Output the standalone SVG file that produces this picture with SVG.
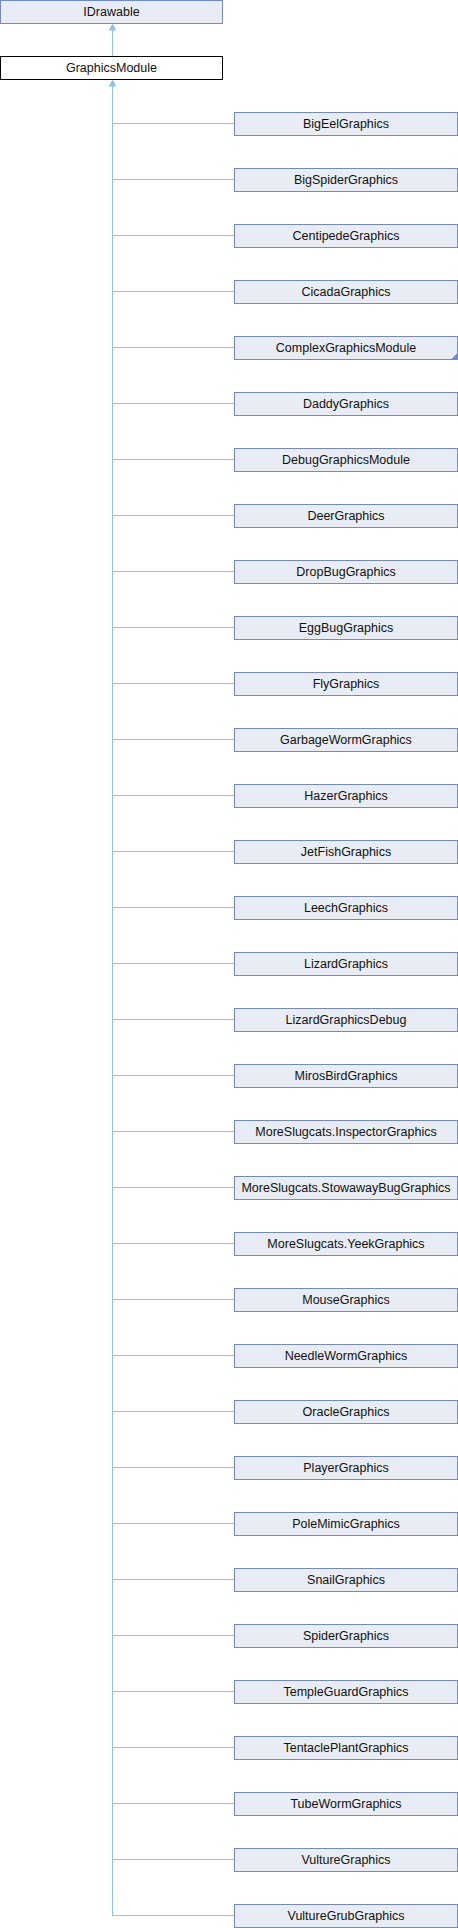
<svg xmlns="http://www.w3.org/2000/svg" width="458" height="1928" viewBox="0 0 458 1928">
<style>
.n rect{fill:#e8ecf4;stroke:#7189c4;stroke-width:1}
.n text,.m text{font-family:"Liberation Sans",Arial,sans-serif;font-size:12.5px;fill:#111;text-anchor:middle}
.m rect{fill:#fff;stroke:#000;stroke-width:1}
.e{fill:none;stroke:#8ac4ea;stroke-width:1}
.a{fill:#8ac4ea;stroke:#8ac4ea;stroke-width:1}
</style>
<g id="connectors">
<path class="e" d="M112.5,30V56"/>
<polygon class="a" points="112.5,24.5 115.5,30 109.5,30"/>
<path class="e" d="M112.5,86V1915.5H234"/>
<polygon class="a" points="112.5,80.5 115.5,86 109.5,86"/>
<path class="e" d="M112.5,123.5H234M112.5,179.5H234M112.5,235.5H234M112.5,291.5H234M112.5,347.5H234M112.5,403.5H234M112.5,459.5H234M112.5,515.5H234M112.5,571.5H234M112.5,627.5H234M112.5,683.5H234M112.5,739.5H234M112.5,795.5H234M112.5,851.5H234M112.5,907.5H234M112.5,963.5H234M112.5,1019.5H234M112.5,1075.5H234M112.5,1131.5H234M112.5,1187.5H234M112.5,1243.5H234M112.5,1299.5H234M112.5,1355.5H234M112.5,1411.5H234M112.5,1467.5H234M112.5,1523.5H234M112.5,1579.5H234M112.5,1635.5H234M112.5,1691.5H234M112.5,1747.5H234M112.5,1803.5H234M112.5,1859.5H234"/>
</g>
<g id="IDrawable" class="n"><rect x="0.5" y="0.5" width="222" height="23"/><text x="111.5" y="16">IDrawable</text></g>
<g id="GraphicsModule" class="m"><rect x="0.5" y="56.5" width="222" height="23"/><text x="111.5" y="72">GraphicsModule</text></g>
<g id="BigEelGraphics" class="n"><rect x="234.5" y="112.5" width="223" height="23"/><text x="346" y="128">BigEelGraphics</text></g>
<g id="BigSpiderGraphics" class="n"><rect x="234.5" y="168.5" width="223" height="23"/><text x="346" y="184">BigSpiderGraphics</text></g>
<g id="CentipedeGraphics" class="n"><rect x="234.5" y="224.5" width="223" height="23"/><text x="346" y="240">CentipedeGraphics</text></g>
<g id="CicadaGraphics" class="n"><rect x="234.5" y="280.5" width="223" height="23"/><text x="346" y="296">CicadaGraphics</text></g>
<g id="ComplexGraphicsModule" class="n"><rect x="234.5" y="336.5" width="223" height="23"/><polygon points="457.5,353 457.5,359.5 451,359.5" fill="#7189c4"/><text x="346" y="352">ComplexGraphicsModule</text></g>
<g id="DaddyGraphics" class="n"><rect x="234.5" y="392.5" width="223" height="23"/><text x="346" y="408">DaddyGraphics</text></g>
<g id="DebugGraphicsModule" class="n"><rect x="234.5" y="448.5" width="223" height="23"/><text x="346" y="464">DebugGraphicsModule</text></g>
<g id="DeerGraphics" class="n"><rect x="234.5" y="504.5" width="223" height="23"/><text x="346" y="520">DeerGraphics</text></g>
<g id="DropBugGraphics" class="n"><rect x="234.5" y="560.5" width="223" height="23"/><text x="346" y="576">DropBugGraphics</text></g>
<g id="EggBugGraphics" class="n"><rect x="234.5" y="616.5" width="223" height="23"/><text x="346" y="632">EggBugGraphics</text></g>
<g id="FlyGraphics" class="n"><rect x="234.5" y="672.5" width="223" height="23"/><text x="346" y="688">FlyGraphics</text></g>
<g id="GarbageWormGraphics" class="n"><rect x="234.5" y="728.5" width="223" height="23"/><text x="346" y="744">GarbageWormGraphics</text></g>
<g id="HazerGraphics" class="n"><rect x="234.5" y="784.5" width="223" height="23"/><text x="346" y="800">HazerGraphics</text></g>
<g id="JetFishGraphics" class="n"><rect x="234.5" y="840.5" width="223" height="23"/><text x="346" y="856">JetFishGraphics</text></g>
<g id="LeechGraphics" class="n"><rect x="234.5" y="896.5" width="223" height="23"/><text x="346" y="912">LeechGraphics</text></g>
<g id="LizardGraphics" class="n"><rect x="234.5" y="952.5" width="223" height="23"/><text x="346" y="968">LizardGraphics</text></g>
<g id="LizardGraphicsDebug" class="n"><rect x="234.5" y="1008.5" width="223" height="23"/><text x="346" y="1024">LizardGraphicsDebug</text></g>
<g id="MirosBirdGraphics" class="n"><rect x="234.5" y="1064.5" width="223" height="23"/><text x="346" y="1080">MirosBirdGraphics</text></g>
<g id="MoreSlugcats.InspectorGraphics" class="n"><rect x="234.5" y="1120.5" width="223" height="23"/><text x="346" y="1136">MoreSlugcats.InspectorGraphics</text></g>
<g id="MoreSlugcats.StowawayBugGraphics" class="n"><rect x="234.5" y="1176.5" width="223" height="23"/><text x="346" y="1192">MoreSlugcats.StowawayBugGraphics</text></g>
<g id="MoreSlugcats.YeekGraphics" class="n"><rect x="234.5" y="1232.5" width="223" height="23"/><text x="346" y="1248">MoreSlugcats.YeekGraphics</text></g>
<g id="MouseGraphics" class="n"><rect x="234.5" y="1288.5" width="223" height="23"/><text x="346" y="1304">MouseGraphics</text></g>
<g id="NeedleWormGraphics" class="n"><rect x="234.5" y="1344.5" width="223" height="23"/><text x="346" y="1360">NeedleWormGraphics</text></g>
<g id="OracleGraphics" class="n"><rect x="234.5" y="1400.5" width="223" height="23"/><text x="346" y="1416">OracleGraphics</text></g>
<g id="PlayerGraphics" class="n"><rect x="234.5" y="1456.5" width="223" height="23"/><text x="346" y="1472">PlayerGraphics</text></g>
<g id="PoleMimicGraphics" class="n"><rect x="234.5" y="1512.5" width="223" height="23"/><text x="346" y="1528">PoleMimicGraphics</text></g>
<g id="SnailGraphics" class="n"><rect x="234.5" y="1568.5" width="223" height="23"/><text x="346" y="1584">SnailGraphics</text></g>
<g id="SpiderGraphics" class="n"><rect x="234.5" y="1624.5" width="223" height="23"/><text x="346" y="1640">SpiderGraphics</text></g>
<g id="TempleGuardGraphics" class="n"><rect x="234.5" y="1680.5" width="223" height="23"/><text x="346" y="1696">TempleGuardGraphics</text></g>
<g id="TentaclePlantGraphics" class="n"><rect x="234.5" y="1736.5" width="223" height="23"/><text x="346" y="1752">TentaclePlantGraphics</text></g>
<g id="TubeWormGraphics" class="n"><rect x="234.5" y="1792.5" width="223" height="23"/><text x="346" y="1808">TubeWormGraphics</text></g>
<g id="VultureGraphics" class="n"><rect x="234.5" y="1848.5" width="223" height="23"/><text x="346" y="1864">VultureGraphics</text></g>
<g id="VultureGrubGraphics" class="n"><rect x="234.5" y="1904.5" width="223" height="23"/><text x="346" y="1920">VultureGrubGraphics</text></g>
</svg>
